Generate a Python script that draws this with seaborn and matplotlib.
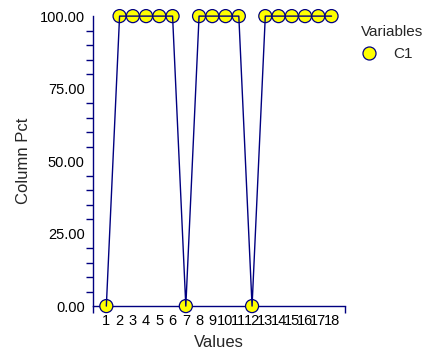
import matplotlib
matplotlib.use("Agg")
import matplotlib.pyplot as plt
from matplotlib.ticker import MultipleLocator, FormatStrFormatter
import seaborn as sns
import pandas as pd

# Column percentages for variable C1 across values 1..18
values = list(range(1, 19))
column_pct = [0, 100, 100, 100, 100, 100, 0, 100, 100, 100, 100, 0,
              100, 100, 100, 100, 100, 100]
variable = ["C1"] * len(values)

df = pd.DataFrame({"Values": values, "Column Pct": column_pct, "Variables": variable})

sns.set_theme(style="white")
plt.rcParams["font.family"] = ["Liberation Sans", "DejaVu Sans"]

navy = "#000080"
fig = plt.figure(figsize=(4.37, 3.58), dpi=100)
ax = fig.add_axes([0.213, 0.145, 0.576, 0.81])

sns.scatterplot(data=df, x="Values", y="Column Pct", hue="Variables",
                palette={"C1": "#ffff00"}, s=88, edgecolor=navy, linewidth=0.9,
                ax=ax, zorder=3, clip_on=False)
sns.lineplot(data=df, x="Values", y="Column Pct", color=navy, linewidth=1.0,
             ax=ax, legend=False)
for ln in ax.get_lines():
    ln.set_zorder(5)
    ln.set_clip_on(False)

ax.set_xlim(0, 19)
ax.set_ylim(0, 100)
ax.set_xticks(values)
ax.set_xticklabels([str(v) for v in values], fontsize=10.5)
ax.xaxis.set_minor_locator(MultipleLocator(1))
ax.yaxis.set_major_locator(MultipleLocator(25))
ax.yaxis.set_minor_locator(MultipleLocator(5))
ax.yaxis.set_major_formatter(FormatStrFormatter("%.2f"))
for lab in ax.get_yticklabels():
    lab.set_fontsize(10.5)

for side in ["top", "right"]:
    ax.spines[side].set_visible(False)
for side in ["left", "bottom"]:
    ax.spines[side].set_color(navy)
    ax.spines[side].set_linewidth(1.0)

ax.tick_params(axis="both", which="both", direction="out", color=navy,
               width=1.0, colors="black", pad=1)
ax.tick_params(axis="both", which="major", length=5)
ax.tick_params(axis="y", which="minor", length=5, left=True)
ax.tick_params(axis="x", which="minor", length=5, bottom=True)
ax.tick_params(axis="both", which="both", color=navy)

ax.set_xlabel("Values", fontsize=12, labelpad=5)
ax.set_ylabel("Column Pct", fontsize=12, labelpad=6)

handles, labels = ax.get_legend_handles_labels()
leg = ax.legend(handles, labels, title="Variables", loc="upper left",
                bbox_to_anchor=(1.065, 0.97), frameon=False, fontsize=11,
                title_fontsize=11, handlelength=1.0, handletextpad=1.1,
                borderaxespad=0, borderpad=0, labelspacing=0.6)
leg._legend_box.align = "left"
leg._legend_box.sep = 6

fig.savefig("out.png", dpi=100)
